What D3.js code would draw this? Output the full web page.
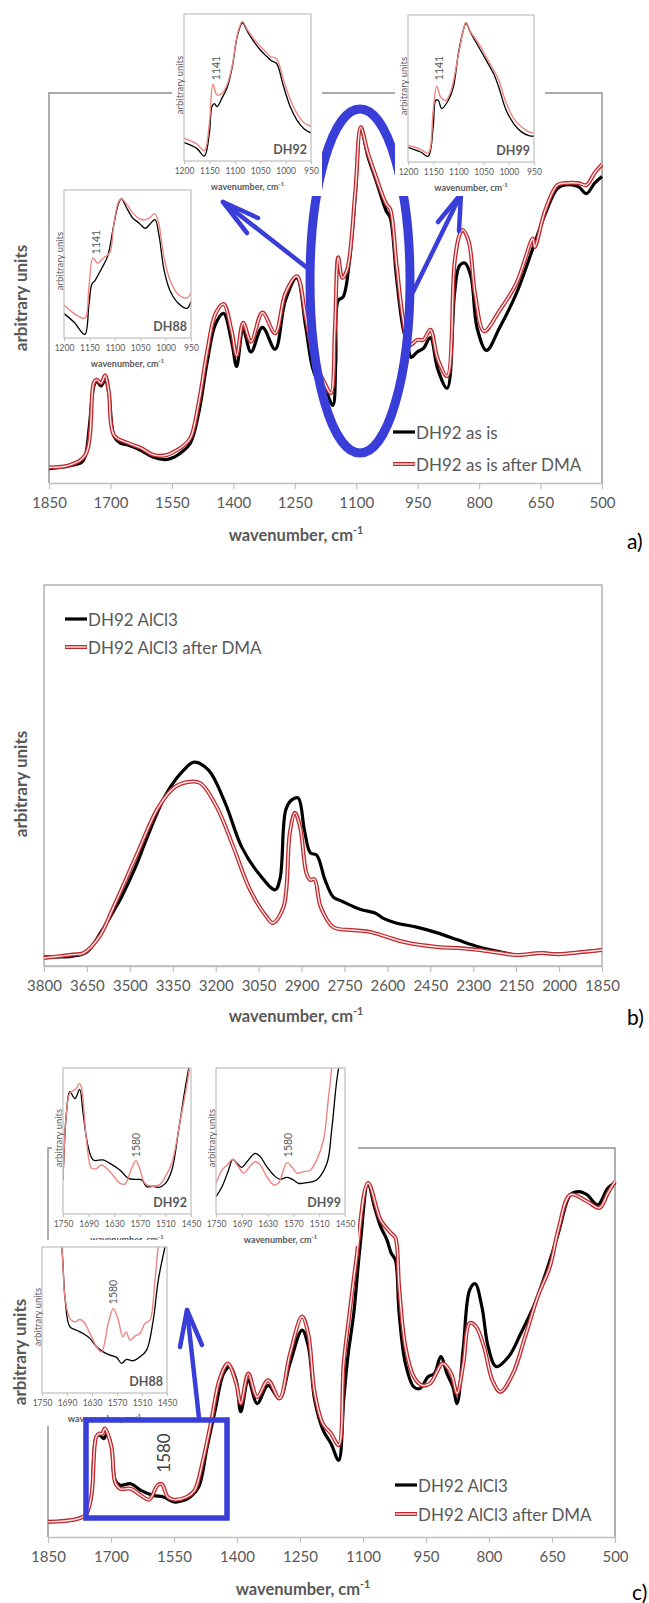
<!DOCTYPE html>
<html>
<head>
<meta charset="utf-8">
<script src="https://cdn.jsdelivr.net/npm/d3@7"></script>
<style>
  body { margin: 0; background: #fff; }
  text { font-family: Lato, "Open Sans", sans-serif; }
</style>
</head>
<body>
<svg id="fig" width="649" height="1603"></svg>
<script>
// ---- tick labels ----
var ticksMain = [1850, 1700, 1550, 1400, 1250, 1100, 950, 800, 650, 500];
var ticksB = [3800, 3650, 3500, 3350, 3200, 3050, 2900, 2750, 2600, 2450, 2300, 2150, 2000, 1850];
var ticksInsetA = [1200, 1150, 1100, 1050, 1000, 950];
var ticksInsetC = [1750, 1690, 1630, 1570, 1510, 1450];

var legendA = ["DH92 as is", "DH92 as is after DMA"];
var legendBC = ["DH92 AlCl3", "DH92 AlCl3 after DMA"];

// ---- panel a : [wavenumber, arbitrary units 0..1] ----
var aAsIs = [[1850,0.037],[1800,0.044],[1770,0.053],[1761,0.071],[1751,0.15],[1741,0.247],[1734,0.261],[1723,0.249],[1713,0.265],[1704,0.23],[1691,0.119],[1676,0.102],[1656,0.097],[1626,0.084],[1595,0.066],[1565,0.06],[1545,0.066],[1525,0.08],[1505,0.102],[1485,0.177],[1464,0.309],[1444,0.406],[1424,0.435],[1404,0.362],[1392,0.299],[1376,0.393],[1357,0.336],[1329,0.399],[1298,0.343],[1273,0.468],[1245,0.526],[1223,0.398],[1203,0.283],[1172,0.23],[1157,0.199],[1150,0.309],[1144,0.468],[1132,0.477],[1117,0.565],[1102,0.742],[1089,0.912],[1072,0.839],[1052,0.777],[1027,0.698],[1017,0.68],[1002,0.53],[986,0.398],[971,0.336],[966,0.322],[951,0.336],[936,0.345],[919,0.373],[901,0.292],[878,0.243],[860,0.486],[848,0.557],[835,0.564],[820,0.53],[805,0.398],[782,0.34],[750,0.398],[709,0.486],[669,0.601],[639,0.689],[609,0.755],[589,0.764],[558,0.76],[538,0.742],[518,0.769],[500,0.786]];
var aAfterDMA = [[1850,0.04],[1800,0.046],[1761,0.072],[1741,0.256],[1734,0.265],[1723,0.256],[1713,0.276],[1704,0.234],[1691,0.122],[1656,0.102],[1626,0.09],[1595,0.072],[1565,0.071],[1545,0.08],[1525,0.093],[1505,0.115],[1485,0.203],[1464,0.336],[1444,0.433],[1424,0.459],[1404,0.389],[1392,0.327],[1376,0.411],[1357,0.362],[1329,0.437],[1298,0.384],[1273,0.486],[1245,0.53],[1223,0.424],[1203,0.318],[1177,0.256],[1162,0.23],[1152,0.398],[1144,0.579],[1134,0.526],[1122,0.548],[1102,0.751],[1089,0.912],[1072,0.848],[1052,0.786],[1027,0.716],[1017,0.702],[1002,0.565],[986,0.424],[971,0.353],[951,0.367],[936,0.367],[919,0.393],[901,0.318],[878,0.274],[860,0.565],[848,0.636],[840,0.649],[825,0.618],[810,0.486],[788,0.389],[750,0.442],[709,0.512],[674,0.618],[669,0.627],[664,0.605],[639,0.698],[609,0.764],[589,0.769],[558,0.769],[538,0.764],[518,0.795],[500,0.817]];

// insets of panel a
var aInset92Black = [[1200,0.125],[1175,0.086],[1160,0.034],[1150,0.19],[1145,0.37],[1140,0.39],[1135,0.37],[1125,0.43],[1115,0.5],[1105,0.64],[1095,0.85],[1085,0.94],[1075,0.88],[1060,0.8],[1050,0.757],[1040,0.72],[1027,0.68],[1018,0.665],[1004,0.507],[991,0.37],[978,0.28],[964,0.22],[950,0.19]];
var aInset92Red = [[1200,0.155],[1175,0.116],[1160,0.07],[1150,0.26],[1143,0.52],[1135,0.45],[1125,0.46],[1115,0.52],[1105,0.65],[1095,0.86],[1085,0.95],[1075,0.89],[1060,0.82],[1050,0.78],[1040,0.745],[1030,0.71],[1020,0.7],[1015,0.68],[1004,0.55],[991,0.42],[978,0.325],[964,0.26],[950,0.234]];
var aInset99Black = [[1200,0.1],[1175,0.068],[1160,0.039],[1150,0.24],[1145,0.42],[1140,0.42],[1133,0.364],[1120,0.42],[1110,0.51],[1100,0.74],[1090,0.9],[1085,0.943],[1075,0.875],[1060,0.784],[1045,0.693],[1030,0.6],[1020,0.51],[1005,0.35],[990,0.26],[975,0.205],[960,0.18],[950,0.175]];
var aInset99Red = [[1200,0.114],[1175,0.086],[1160,0.061],[1150,0.35],[1143,0.516],[1135,0.44],[1125,0.42],[1115,0.48],[1100,0.73],[1090,0.9],[1085,0.95],[1075,0.88],[1060,0.807],[1045,0.716],[1030,0.625],[1020,0.557],[1005,0.4],[990,0.295],[975,0.24],[960,0.205],[950,0.198]];
var aInset88Black = [[1200,0.165],[1180,0.106],[1159,0.024],[1151,0.224],[1145,0.365],[1139,0.388],[1126,0.47],[1114,0.553],[1102,0.765],[1093,0.906],[1087,0.941],[1077,0.882],[1065,0.812],[1052,0.776],[1040,0.741],[1032,0.765],[1021,0.8],[1013,0.694],[1003,0.459],[991,0.318],[975,0.235],[958,0.2],[950,0.247]];
var aInset88Red = [[1200,0.224],[1180,0.165],[1159,0.134],[1151,0.341],[1143,0.541],[1134,0.506],[1122,0.541],[1110,0.576],[1102,0.765],[1093,0.918],[1087,0.941],[1077,0.906],[1065,0.847],[1052,0.807],[1040,0.8],[1032,0.812],[1021,0.84],[1013,0.765],[1003,0.541],[991,0.388],[975,0.294],[958,0.271],[950,0.306]];

// ---- panel b ----
var bAlCl3 = [[3800,0.024],[3700,0.026],[3650,0.037],[3600,0.09],[3560,0.14],[3530,0.18],[3480,0.26],[3443,0.331],[3371,0.454],[3312,0.514],[3276,0.535],[3225,0.514],[3167,0.428],[3109,0.312],[3051,0.244],[2992,0.2],[2975,0.23],[2955,0.41],[2934,0.436],[2912,0.441],[2890,0.357],[2869,0.297],[2847,0.291],[2818,0.226],[2789,0.181],[2759,0.17],[2716,0.155],[2687,0.147],[2643,0.139],[2614,0.125],[2570,0.113],[2498,0.102],[2425,0.087],[2352,0.068],[2279,0.05],[2206,0.037],[2148,0.029],[2061,0.034],[2002,0.031],[1916,0.037],[1850,0.042]];
var bAfterDMA = [[3800,0.021],[3700,0.03],[3662,0.034],[3604,0.08],[3560,0.15],[3530,0.2],[3473,0.297],[3400,0.417],[3342,0.47],[3298,0.483],[3254,0.48],[3196,0.417],[3138,0.312],[3080,0.2],[3022,0.129],[3000,0.113],[2963,0.155],[2941,0.349],[2923,0.402],[2905,0.365],[2883,0.244],[2869,0.226],[2855,0.228],[2833,0.155],[2789,0.102],[2716,0.094],[2658,0.089],[2600,0.076],[2542,0.063],[2425,0.05],[2352,0.047],[2279,0.042],[2206,0.034],[2148,0.029],[2061,0.034],[2002,0.031],[1916,0.037],[1850,0.042]];

// ---- panel c ----
var cAlCl3 = [[1850,0.039],[1786,0.045],[1761,0.056],[1747,0.103],[1735,0.258],[1727,0.262],[1717,0.253],[1709,0.266],[1699,0.232],[1690,0.146],[1678,0.133],[1653,0.137],[1629,0.12],[1599,0.107],[1575,0.103],[1550,0.09],[1530,0.093],[1511,0.103],[1491,0.129],[1471,0.232],[1452,0.326],[1432,0.42],[1417,0.438],[1402,0.403],[1391,0.322],[1373,0.403],[1352,0.343],[1326,0.39],[1299,0.356],[1274,0.446],[1245,0.532],[1230,0.489],[1215,0.352],[1195,0.275],[1176,0.24],[1158,0.197],[1146,0.352],[1136,0.464],[1122,0.575],[1107,0.747],[1088,0.91],[1073,0.85],[1058,0.798],[1043,0.764],[1033,0.73],[1023,0.712],[1014,0.575],[999,0.446],[979,0.386],[964,0.382],[945,0.412],[930,0.42],[915,0.464],[900,0.42],[886,0.386],[876,0.343],[861,0.489],[846,0.635],[833,0.651],[817,0.592],[802,0.489],[783,0.438],[753,0.464],[724,0.524],[694,0.592],[665,0.678],[635,0.781],[606,0.88],[586,0.888],[567,0.88],[541,0.854],[517,0.897],[500,0.91]];
var cAfterDMA = [[1850,0.039],[1786,0.045],[1761,0.056],[1747,0.103],[1735,0.258],[1727,0.266],[1721,0.265],[1715,0.279],[1699,0.232],[1690,0.14],[1678,0.124],[1653,0.124],[1629,0.107],[1609,0.096],[1589,0.133],[1579,0.136],[1565,0.103],[1550,0.096],[1520,0.103],[1501,0.12],[1481,0.197],[1461,0.3],[1442,0.403],[1422,0.446],[1402,0.395],[1391,0.343],[1373,0.42],[1352,0.36],[1326,0.403],[1299,0.356],[1274,0.47],[1245,0.567],[1230,0.52],[1215,0.37],[1195,0.29],[1176,0.266],[1158,0.236],[1146,0.446],[1132,0.575],[1117,0.704],[1088,0.91],[1058,0.815],[1033,0.781],[1023,0.77],[1014,0.644],[999,0.489],[979,0.412],[960,0.39],[940,0.395],[910,0.446],[890,0.42],[876,0.369],[861,0.446],[846,0.55],[831,0.541],[812,0.489],[792,0.403],[773,0.373],[743,0.42],[714,0.515],[684,0.618],[655,0.695],[635,0.79],[606,0.88],[567,0.863],[537,0.846],[517,0.884],[500,0.914]];

// insets of panel c
var cInset92Black = [[1750,0.233],[1742,0.69],[1734,0.838],[1722,0.79],[1711,0.853],[1703,0.69],[1691,0.46],[1679,0.37],[1656,0.37],[1640,0.347],[1616,0.3],[1597,0.244],[1577,0.237],[1565,0.233],[1554,0.187],[1538,0.19],[1526,0.183],[1510,0.21],[1495,0.3],[1479,0.575],[1463,0.872],[1450,1.08]];
var cInset92Red = [[1750,0.233],[1742,0.69],[1734,0.826],[1719,0.86],[1712,0.895],[1707,0.87],[1695,0.507],[1683,0.313],[1671,0.313],[1660,0.336],[1640,0.29],[1616,0.21],[1605,0.205],[1589,0.313],[1579,0.365],[1569,0.3],[1558,0.21],[1538,0.19],[1522,0.205],[1510,0.256],[1495,0.347],[1475,0.644],[1459,0.895],[1450,1.08]];
var cInset99Black = [[1750,0.119],[1736,0.187],[1721,0.3],[1711,0.374],[1701,0.347],[1690,0.32],[1678,0.358],[1659,0.415],[1647,0.393],[1632,0.324],[1616,0.267],[1601,0.237],[1585,0.251],[1570,0.233],[1558,0.21],[1539,0.215],[1516,0.233],[1492,0.347],[1481,0.575],[1469,0.918],[1460,1.08]];
var cInset99Red = [[1750,0.21],[1736,0.3],[1724,0.336],[1711,0.374],[1697,0.32],[1686,0.28],[1670,0.33],[1659,0.358],[1647,0.336],[1632,0.256],[1616,0.2],[1605,0.21],[1585,0.352],[1574,0.324],[1562,0.28],[1547,0.29],[1531,0.3],[1516,0.37],[1500,0.507],[1489,0.78],[1478,1.08]];
var cInset88Black = [[1712,1.1],[1703,1.0],[1695,0.658],[1683,0.453],[1667,0.43],[1651,0.408],[1635,0.374],[1619,0.317],[1603,0.282],[1587,0.26],[1571,0.244],[1559,0.203],[1547,0.23],[1531,0.221],[1515,0.248],[1499,0.294],[1483,0.5],[1471,0.772],[1455,1.0],[1448,1.1]];
var cInset88Red = [[1712,1.1],[1703,1.0],[1695,0.658],[1683,0.51],[1671,0.487],[1659,0.503],[1647,0.476],[1635,0.408],[1619,0.317],[1607,0.282],[1591,0.476],[1579,0.579],[1567,0.5],[1556,0.385],[1548,0.419],[1539,0.362],[1527,0.39],[1515,0.408],[1503,0.476],[1491,0.5],[1479,0.772],[1471,1.0],[1465,1.1]];

var GREY = "#595959", BLUE = "#3a3ed8";
var svg = d3.select("#fig");
svg.append("rect").attr("width", 649).attr("height", 1603).attr("fill", "#fff");
var defs = svg.append("defs");
var clipId = 0;

function spectrum(x, y) {
  return d3.line()
    .x(function(d){ return x(d[0]); })
    .y(function(d){ return y(d[1]); })
    .curve(d3.curveCatmullRom.alpha(0.5));
}

function cmTitle(g, x, y, size) {
  var t = g.append("text").attr("x", x).attr("y", y)
    .attr("text-anchor", "middle").attr("fill", GREY)
    .attr("font-weight", "bold").attr("font-size", size);
  t.append("tspan").text("wavenumber, cm");
  t.append("tspan").attr("dy", -size * 0.4).attr("font-size", size * 0.65).text("-1");
}

function rotText(g, x, y, txt, size, weight, fill) {
  g.append("text")
    .attr("transform", "translate(" + x + "," + y + ") rotate(-90)")
    .attr("text-anchor", "middle").attr("dominant-baseline", "central")
    .attr("font-size", size).attr("font-weight", weight || "normal")
    .attr("fill", fill || GREY).text(txt);
}

function mainPanel(p) {
  var g = svg.append("g");
  var x = d3.scaleLinear().domain(p.domain).range([p.x0, p.x1]);
  var y = d3.scaleLinear().domain([0, 1]).range([p.y1, p.y0]);
  // frame
  if (p.box) {
    g.append("rect").attr("x", p.x0).attr("y", p.y0)
      .attr("width", p.x1 - p.x0).attr("height", p.y1 - p.y0)
      .attr("fill", "none").attr("stroke", "#a6a6a6").attr("stroke-width", 1.3);
  } else {
    g.append("path")
      .attr("d", "M" + p.x0 + "," + p.y1 + "V" + p.y0 + "H" + p.x1 + "V" + p.y1)
      .attr("fill", "none").attr("stroke", "#8f8f8f").attr("stroke-width", 1.4);
  }
  var ax = g.append("g").attr("transform", "translate(0," + p.y1 + ")")
    .call(d3.axisBottom(x).tickValues(p.ticks).tickSize(6).tickSizeOuter(0)
      .tickPadding(8).tickFormat(d3.format("d")));
  ax.select(".domain").attr("stroke", "#bfbfbf").attr("stroke-width", 1.4);
  ax.selectAll(".tick line").attr("stroke", "#bfbfbf").attr("stroke-width", 1.2);
  ax.selectAll(".tick text").attr("fill", GREY).attr("font-size", 15)
    .attr("font-family", "Lato, 'Open Sans', sans-serif");
  cmTitle(g, p.titleX, p.titleY, 16.5);
  rotText(g, p.ylabX, p.ylabY, "arbitrary units", 17, "bold");
  g.append("text").attr("x", p.tagX).attr("y", p.tagY)
    .attr("font-family", "'Liberation Serif', serif").attr("font-size", 21)
    .attr("fill", "#000").text(p.tag);

  var line = spectrum(x, y);
  g.append("path").datum(p.black).attr("d", line)
    .attr("fill", "none").attr("stroke", "#000").attr("stroke-width", 3.2)
    .attr("stroke-linejoin", "round");
  g.append("path").datum(p.red).attr("d", line)
    .attr("fill", "none").attr("stroke", "#c0282d").attr("stroke-width", 4)
    .attr("stroke-linejoin", "round");
  g.append("path").datum(p.red).attr("d", line)
    .attr("fill", "none").attr("stroke", "#ffe8e8").attr("stroke-width", 1.4)
    .attr("stroke-linejoin", "round");
  return g;
}

function legend(g, lx, ly, gap, labels) {
  var items = g.append("g").selectAll("g").data(labels).enter().append("g")
    .attr("transform", function(d, i){ return "translate(" + lx + "," + (ly + i * gap) + ")"; });
  items.each(function(d, i){
    var it = d3.select(this);
    if (i === 0) {
      it.append("line").attr("x1", 0).attr("x2", 22).attr("stroke", "#000").attr("stroke-width", 3.2);
    } else {
      it.append("line").attr("x1", 0).attr("x2", 22).attr("stroke", "#c0282d").attr("stroke-width", 4);
      it.append("line").attr("x1", 0.5).attr("x2", 21.5).attr("stroke", "#ffe8e8").attr("stroke-width", 1.4);
    }
    it.append("text").attr("x", 23).attr("dominant-baseline", "central")
      .attr("font-size", 17).attr("fill", GREY).text(d);
  });
}

function inset(p) {
  var g = svg.append("g");
  g.append("rect").attr("x", p.bg[0]).attr("y", p.bg[1])
    .attr("width", p.bg[2] - p.bg[0]).attr("height", p.bg[3] - p.bg[1]).attr("fill", "#fff");
  var x = d3.scaleLinear().domain(p.domain).range([p.x0, p.x1]);
  var y = d3.scaleLinear().domain([0, 1]).range([p.y1, p.y0]);
  var id = "clip" + (clipId++);
  defs.append("clipPath").attr("id", id).append("rect")
    .attr("x", p.x0).attr("y", p.y0).attr("width", p.x1 - p.x0).attr("height", p.y1 - p.y0);
  var line = spectrum(x, y);
  var cg = g.append("g").attr("clip-path", "url(#" + id + ")");
  cg.append("path").datum(p.black).attr("d", line).attr("fill", "none")
    .attr("stroke", "#000").attr("stroke-width", 1.3);
  cg.append("path").datum(p.red).attr("d", line).attr("fill", "none")
    .attr("stroke", "#ef8582").attr("stroke-width", 1.4);
  g.append("rect").attr("x", p.x0).attr("y", p.y0)
    .attr("width", p.x1 - p.x0).attr("height", p.y1 - p.y0)
    .attr("fill", "none").attr("stroke", "#bfbfbf").attr("stroke-width", 1.2);
  var ax = g.append("g").attr("transform", "translate(0," + p.y1 + ")")
    .call(d3.axisBottom(x).tickValues(p.ticks).tickSize(3).tickSizeOuter(0)
      .tickPadding(4).tickFormat(d3.format("d")));
  ax.select(".domain").remove();
  ax.selectAll(".tick line").attr("stroke", "#bfbfbf");
  ax.selectAll(".tick text").attr("fill", GREY).attr("font-size", 8.5)
    .attr("font-family", "Lato, 'Open Sans', sans-serif");
  cmTitle(g, (p.x0 + p.x1) / 2, p.y1 + 29, 9);
  rotText(g, p.x0 - 5, p.ylabY, "arbitrary units", 9.5);
  rotText(g, p.peakX, p.peakY, p.peak, 10.5);
  g.append("text").attr("x", p.x1 - 4).attr("y", p.y1 - 7).attr("text-anchor", "end")
    .attr("font-weight", "bold").attr("font-size", 12.5).attr("fill", GREY).text(p.name);
}

function arrow(g, pts, w) {
  g.append("path").attr("d", d3.line()(pts)).attr("fill", "none")
    .attr("stroke", BLUE).attr("stroke-width", w)
    .attr("stroke-linecap", "round").attr("stroke-linejoin", "round");
}

// ================= panel a =================
var ga = mainPanel({domain: [1850, 500], x0: 49, x1: 602, y0: 93, y1: 483, ticks: ticksMain,
  black: aAsIs, red: aAfterDMA, titleX: 296, titleY: 541, ylabX: 20, ylabY: 298,
  tag: "a)", tagX: 627, tagY: 549});
ga.append("ellipse").attr("cx", 360).attr("cy", 281).attr("rx", 50).attr("ry", 172)
  .attr("fill", "none").attr("stroke", BLUE).attr("stroke-width", 9);
arrow(ga, [[310, 270], [223, 202]], 4.5);
arrow(ga, [[258, 218], [223, 202], [247, 233]], 4.5);
arrow(ga, [[413, 292], [461, 194]], 4.5);
arrow(ga, [[438, 222], [461, 194], [459, 231]], 4.5);
legend(ga, 393, 432, 32, legendA);

inset({name: "DH92", domain: [1200, 950], ticks: ticksInsetA, x0: 184, x1: 311, y0: 14, y1: 161,
  bg: [172, 0, 322, 196], black: aInset92Black, red: aInset92Red,
  ylabY: 85, peak: "1141", peakX: 216, peakY: 68});
inset({name: "DH99", domain: [1200, 950], ticks: ticksInsetA, x0: 408, x1: 534, y0: 15, y1: 162,
  bg: [395, 0, 545, 196], black: aInset99Black, red: aInset99Red,
  ylabY: 86, peak: "1141", peakX: 439, peakY: 68});
inset({name: "DH88", domain: [1200, 950], ticks: ticksInsetA, x0: 64, x1: 191, y0: 190, y1: 338,
  bg: [52, 184, 200, 372], black: aInset88Black, red: aInset88Red,
  ylabY: 261, peak: "1141", peakX: 96, peakY: 242});

// ================= panel b =================
var gb = mainPanel({domain: [3800, 1850], x0: 44, x1: 602, y0: 585, y1: 966, ticks: ticksB, box: true,
  black: bAlCl3, red: bAfterDMA, titleX: 296, titleY: 1022, ylabX: 20, ylabY: 784,
  tag: "b)", tagX: 627, tagY: 1025});
legend(gb, 65, 619, 28, legendBC);

// ================= panel c =================
var gc = mainPanel({domain: [1850, 500], x0: 48, x1: 615, y0: 1148, y1: 1537, ticks: ticksMain,
  black: cAlCl3, red: cAfterDMA, titleX: 303, titleY: 1595, ylabX: 19, ylabY: 1352,
  tag: "c)", tagX: 632, tagY: 1600});
legend(gc, 395, 1485, 29, legendBC);

inset({name: "DH92", domain: [1750, 1450], ticks: ticksInsetC, x0: 63, x1: 191, y0: 1068, y1: 1214,
  bg: [52, 1058, 205, 1246], black: cInset92Black, red: cInset92Red,
  ylabY: 1138, peak: "1580", peakX: 136, peakY: 1145});
inset({name: "DH99", domain: [1750, 1450], ticks: ticksInsetC, x0: 216, x1: 345, y0: 1068, y1: 1214,
  bg: [205, 1058, 358, 1246], black: cInset99Black, red: cInset99Red,
  ylabY: 1138, peak: "1580", peakX: 288, peakY: 1145});
inset({name: "DH88", domain: [1750, 1450], ticks: ticksInsetC, x0: 42, x1: 167, y0: 1247, y1: 1393,
  bg: [30, 1240, 178, 1426], black: cInset88Black, red: cInset88Red,
  ylabY: 1317, peak: "1580", peakX: 113, peakY: 1292});

var gcTop = svg.append("g");
gcTop.append("rect").attr("x", 86).attr("y", 1420).attr("width", 141).attr("height", 98)
  .attr("fill", "none").attr("stroke", BLUE).attr("stroke-width", 5.5);
arrow(gcTop, [[199, 1418], [187, 1310]], 4.5);
arrow(gcTop, [[180, 1347], [187, 1310], [202, 1345]], 4.5);
rotText(gcTop, 163, 1453, "1580", 17, "normal", "#404040");
</script>
</body>
</html>
